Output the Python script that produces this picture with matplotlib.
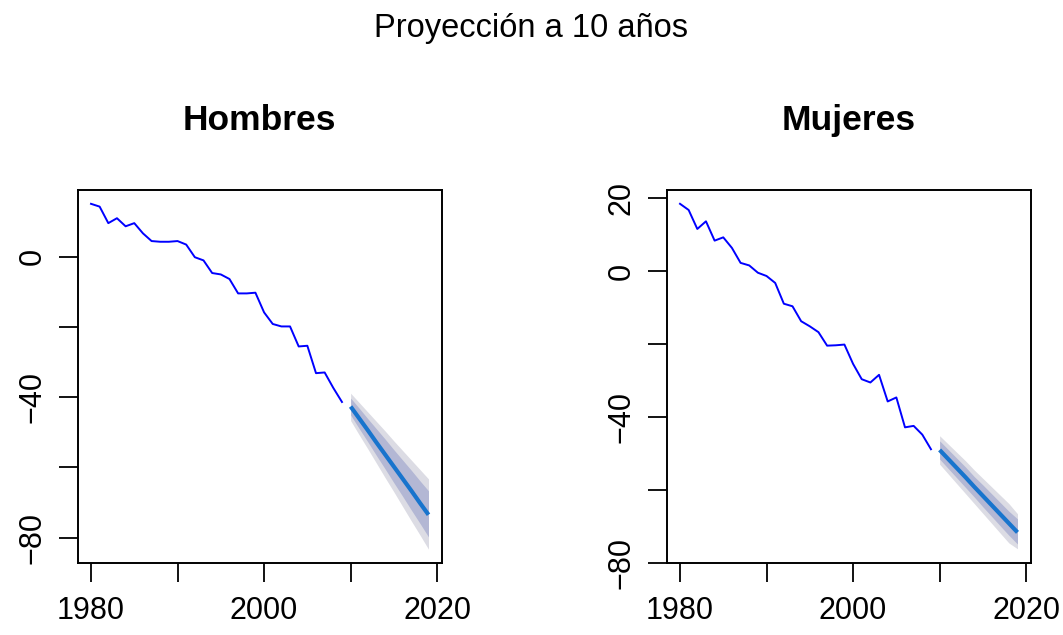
import matplotlib
matplotlib.use("Agg")
import matplotlib.pyplot as plt
import numpy as np

plt.rcParams['font.family'] = ['Liberation Sans', 'DejaVu Sans']

# ---- data ----
years_hist = list(range(1980, 2010))
years_fc = list(range(2010, 2020))

hombres_hist = [15.0, 14.2, 9.5, 10.9, 8.6, 9.5, 6.6, 4.4, 4.2, 4.2,
                4.4, 3.4, -0.2, -1.1, -4.7, -5.1, -6.4, -10.5, -10.5, -10.3,
                -15.9, -19.2, -19.9, -19.9, -25.6, -25.4, -33.2, -33.0, -37.4, -41.4]
hombres_fc = [-42.7, -46.1, -49.5, -53.0, -56.4, -59.8, -63.2, -66.6, -70.1, -73.5]
hombres_lo80 = [-45.1, -49.0, -52.8, -56.7, -60.5, -64.4, -68.2, -72.1, -75.9, -79.8]
hombres_hi80 = [-40.3, -43.2, -46.2, -49.1, -52.0, -55.0, -57.9, -60.8, -63.8, -66.7]
hombres_lo95 = [-46.7, -50.8, -54.8, -58.9, -63.0, -67.0, -71.1, -75.2, -79.2, -83.3]
hombres_hi95 = [-38.9, -41.6, -44.3, -47.0, -49.7, -52.5, -55.2, -57.9, -60.6, -63.3]

mujeres_hist = [18.5, 16.8, 11.6, 13.7, 8.4, 9.3, 6.4, 2.3, 1.6, -0.4,
                -1.3, -3.2, -8.9, -9.6, -13.7, -15.1, -16.7, -20.4, -20.3, -20.1,
                -25.4, -29.6, -30.5, -28.4, -35.7, -34.6, -42.8, -42.4, -44.8, -48.8]
mujeres_fc = [-49.0, -51.5, -54.0, -56.5, -59.1, -61.6, -64.1, -66.6, -69.1, -71.6]
mujeres_lo80 = [-51.5, -54.1, -56.7, -59.3, -61.9, -64.6, -67.2, -69.8, -72.4, -74.8]
mujeres_hi80 = [-46.5, -48.9, -51.3, -53.7, -56.3, -58.6, -61.0, -63.4, -65.8, -67.9]
mujeres_lo95 = [-52.9, -55.6, -58.3, -61.0, -63.7, -66.4, -69.1, -71.8, -74.5, -76.1]
mujeres_hi95 = [-45.1, -47.4, -49.7, -52.0, -54.5, -56.8, -59.1, -61.4, -63.7, -66.5]

titles = ["Hombres", "Mujeres"]
suptitle = "Proyección a 10 años"
xticks = [1980, 1990, 2000, 2010, 2020]
xlabels = ["1980", "", "2000", "", "2020"]
yticks_h = [-80, -60, -40, -20, 0]
ylabels_h = ["\u221280", "", "\u221240", "", "0"]
yticks_m = [-80, -60, -40, -20, 0, 20]
ylabels_m = ["\u221280", "", "\u221240", "", "0", "20"]

# ---- figure ----
W, H = 1063, 635
fig = plt.figure(figsize=(W / 100, H / 100), dpi=100)

col95 = '#DCDCE4'
col80 = '#B3B7D4'
colfc = '#1874CD'
colhist = '#0000FF'

panels = [
    (77.5, hombres_hist, hombres_fc, hombres_lo80, hombres_hi80, hombres_lo95, hombres_hi95, yticks_h, ylabels_h),
    (666.5, mujeres_hist, mujeres_fc, mujeres_lo80, mujeres_hi80, mujeres_lo95, mujeres_hi95, yticks_m, ylabels_m),
]

for i, (left, hist, fc, lo80, hi80, lo95, hi95, yt, yl) in enumerate(panels):
    ax = fig.add_axes([left / W, 72 / H, 364.5 / W, 373 / H])
    ax.fill_between(years_fc, lo95, hi95, color=col95, lw=0)
    ax.fill_between(years_fc, lo80, hi80, color=col80, lw=0)
    ax.plot(years_hist, hist, color=colhist, lw=1.4)
    ax.plot(years_fc, fc, color=colfc, lw=3.0, solid_capstyle='butt')
    ax.margins(x=0.04, y=0.04)
    ax.set_xticks(xticks)
    ax.set_xticklabels(xlabels)
    ax.set_yticks(yt)
    ax.set_yticklabels(yl, rotation=90, va='center')
    ax.tick_params(axis='both', direction='out', length=13.5, width=1.3,
                   labelsize=22, color='black')
    ax.tick_params(axis='x', pad=10)
    ax.tick_params(axis='y', pad=8)
    for s in ax.spines.values():
        s.set_linewidth(1.4)
    ax.set_title(titles[i], fontsize=25.5, fontweight='bold', pad=43)

fig.text(0.5, 1 - 28 / H, suptitle, ha='center', va='center', fontsize=23.5)

fig.savefig("out.png", dpi=100)
